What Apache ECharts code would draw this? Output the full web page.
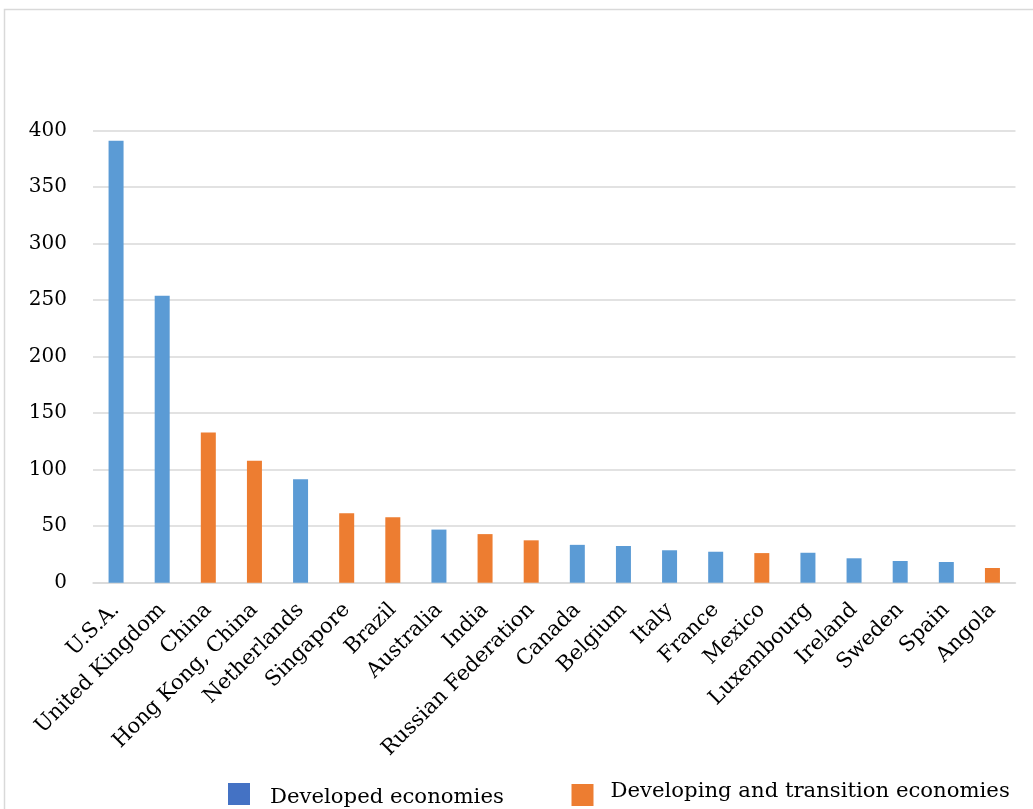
<!DOCTYPE html>
<html>
<head>
<meta charset="utf-8">
<script src="https://cdn.jsdelivr.net/npm/echarts@6/dist/echarts.min.js"></script>
<style>
  html, body { margin: 0; padding: 0; background: #ffffff; }
  #chart { width: 1033px; height: 809px; }
</style>
</head>
<body>
<div id="chart"></div>
<script>
// Economies ranked by value
const categories = [
  'U.S.A.', 'United Kingdom', 'China', 'Hong Kong, China', 'Netherlands',
  'Singapore', 'Brazil', 'Australia', 'India', 'Russian Federation',
  'Canada', 'Belgium', 'Italy', 'France', 'Mexico',
  'Luxembourg', 'Ireland', 'Sweden', 'Spain', 'Angola'
];
const values = [
  391, 254, 133, 108, 91.5,
  61.5, 58, 47, 43, 37.5,
  33.5, 32.5, 28.7, 27.4, 26.2,
  26.5, 21.6, 19.2, 18.3, 13
];
// Group of each economy: 'dev' = developed, 'trans' = developing and transition
const groups = [
  'dev', 'dev', 'trans', 'trans', 'dev',
  'trans', 'trans', 'dev', 'trans', 'trans',
  'dev', 'dev', 'dev', 'dev', 'trans',
  'dev', 'dev', 'dev', 'dev', 'trans'
];
const yTicks = [0, 50, 100, 150, 200, 250, 300, 350, 400];
const seriesNames = ['Developed economies', 'Developing and transition economies'];

const developed = values.map((v, i) => groups[i] === 'dev' ? v : '-');
const developing = values.map((v, i) => groups[i] === 'trans' ? v : '-');

const SERIF = 'DejaVu Serif';
const chart = echarts.init(document.getElementById('chart'), null, { renderer: 'canvas' });

// legend label as a rich token; a small lineHeight keeps the item box equal
// to the swatch, and the padding nudges the label relative to it
function legendText(padding) {
  return {
    color: '#000',
    rich: {
      t: { fontFamily: SERIF, fontSize: 21.2, lineHeight: 14, color: '#000', padding: padding }
    }
  };
}

chart.setOption({
  backgroundColor: '#ffffff',
  animation: false,
  graphic: [{
    type: 'polyline',
    silent: true,
    shape: { points: [[4.5, 809], [4.5, 9.5], [1040, 9.5]] },
    style: { stroke: '#d9d9d9', lineWidth: 1.5, fill: null }
  }],
  legend: [{
    data: [{ name: seriesNames[0], itemStyle: { color: '#4472c4' } }],
    left: 228, top: 780.5, padding: 0,
    icon: 'rect', itemWidth: 22, itemHeight: 22,
    formatter: '{t|{name}}',
    textStyle: legendText([6, 0, 0, 15]),
    selectedMode: false
  }, {
    data: [{ name: seriesNames[1], itemStyle: { color: '#ed7d31' } }],
    left: 571.5, top: 780.5, padding: 0,
    icon: 'rect', itemWidth: 22, itemHeight: 22,
    formatter: '{t|{name}}',
    textStyle: legendText([0, 0, 8, 12]),
    selectedMode: false
  }],
  grid: { left: 93, right: 17.5, top: 130.7, bottom: 226.3, containLabel: false },
  xAxis: {
    type: 'category',
    data: categories,
    axisLine: { lineStyle: { color: '#d9d9d9', width: 1.5 } },
    axisTick: { show: false },
    axisLabel: {
      interval: 0, rotate: 45, margin: 24,
      fontFamily: SERIF, fontSize: 21, color: '#000'
    }
  },
  yAxis: {
    type: 'value',
    min: yTicks[0], max: yTicks[yTicks.length - 1], interval: 50,
    axisLine: { show: false },
    axisTick: { show: false },
    splitLine: { lineStyle: { color: '#d9d9d9', width: 1.5 } },
    axisLabel: { margin: 26, fontFamily: SERIF, fontSize: 20, color: '#000' }
  },
  series: [{
    name: seriesNames[0], type: 'bar', data: developed,
    barWidth: 15, barGap: '-100%',
    itemStyle: { color: '#5b9bd5' }
  }, {
    name: seriesNames[1], type: 'bar', data: developing,
    barWidth: 15, barGap: '-100%',
    itemStyle: { color: '#ed7d31' }
  }]
});
</script>
</body>
</html>
